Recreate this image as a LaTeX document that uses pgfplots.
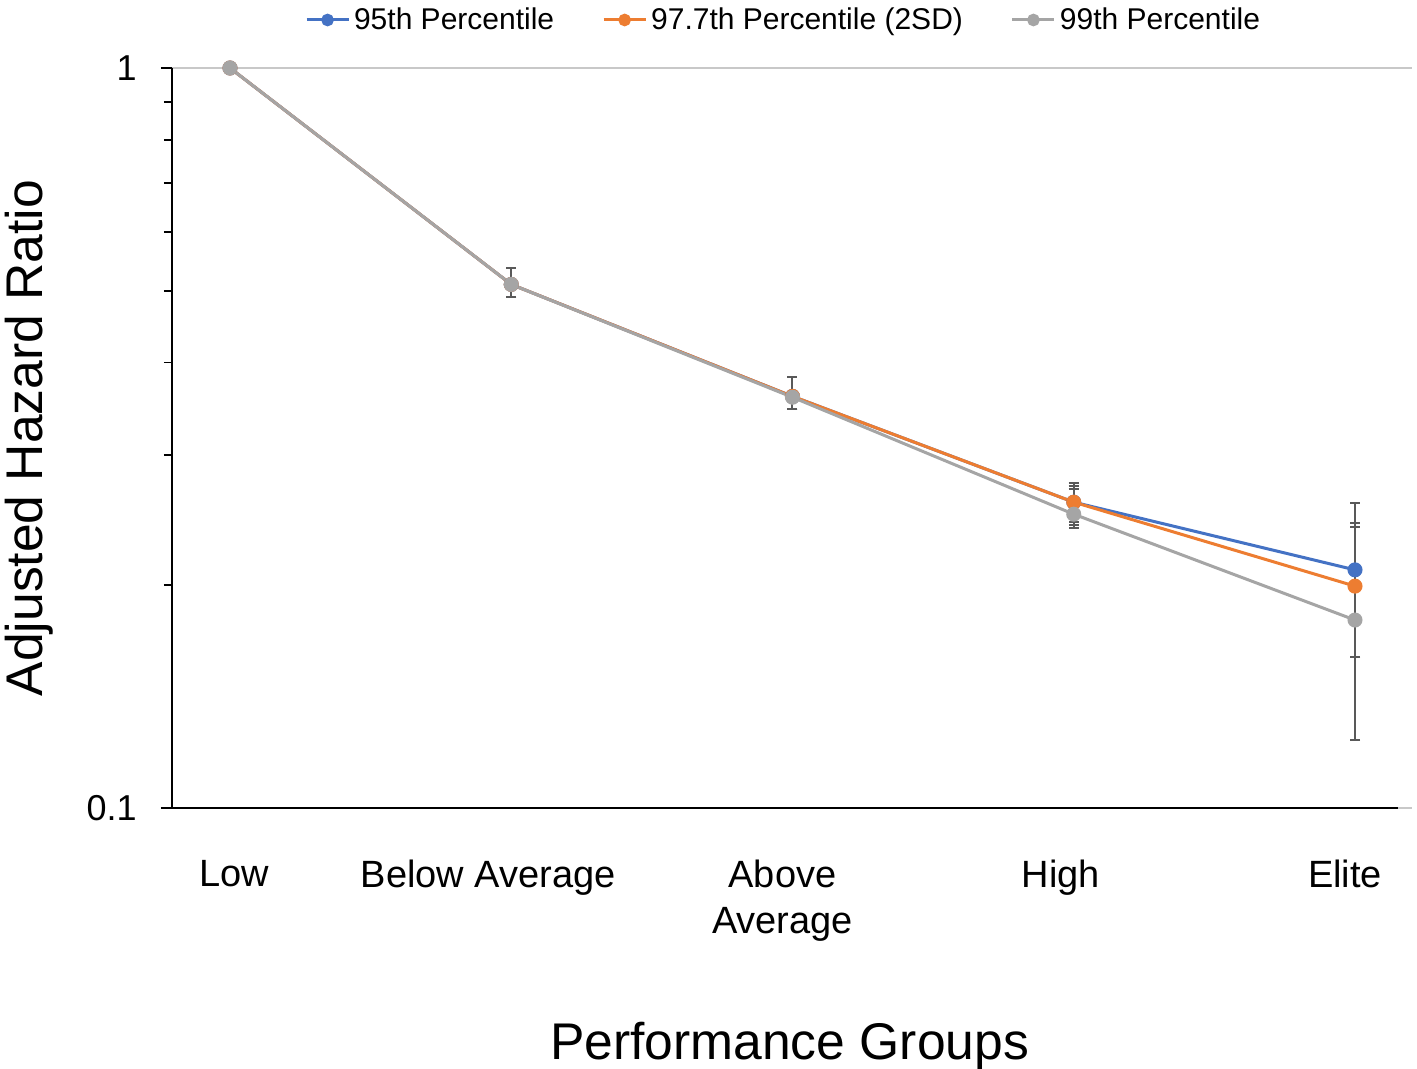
\documentclass[border=0pt]{standalone}
\usepackage{pgfplots}
\pgfplotsset{compat=1.18}
\usepackage{fontspec}
\setmainfont{Liberation Sans}
\definecolor{cblue}{HTML}{4472C4}
\definecolor{corange}{HTML}{ED7D31}
\definecolor{cgray}{HTML}{A5A5A5}
\definecolor{cerr}{HTML}{595959}
\definecolor{cgrid}{HTML}{C8C8C8}

\pgfplotstableread{
x y ep em
0 1.0 0 0
1 0.51 0.027 0.020
2 0.360 0.022 0.014
3 0.259 0.0108 0.0156
4 0.2098 0.0329 0.0498
}\blue

\pgfplotstableread{
x y ep em
0 1.0 0 0
1 0.51 0.027 0.020
2 0.360 0.022 0.014
3 0.259 0.0133 0.0179
4 0.1995 0.0403 0.0395
}\orange

\pgfplotstableread{
x y ep em
0 1.0 0 0
1 0.51 0.027 0.020
2 0.359 0.023 0.013
3 0.2495 0.0254 0.0105
4 0.1795 0.0789 0.0559
}\gray

\begin{document}
\begin{tikzpicture}
\path[use as bounding box] (0,0) rectangle (708.5bp,534.5bp);
\begin{axis}[
  at={(86bp,130.5bp)}, anchor=south west,
  width=620bp, height=370bp, scale only axis,
  ymode=log, ymin=0.1, ymax=1,
  xmin=-0.2062, xmax=4.2027,
  axis lines*=left,
  x axis line style={-, line width=1bp, shorten >=7bp},
  y axis line style={-, line width=1bp},
  xtick={0,1,2,3,4},
  xticklabels={
    {\makebox[0pt]{\hspace*{4bp}Low}},
    {\makebox[0pt]{\hspace*{-23bp}Below Average}},
    {\makebox[0pt]{\hspace*{-10bp}\raisebox{0pt}[13.8bp]{\begin{tabular}[t]{@{}c@{}}Above\\Average\end{tabular}}}},
    {\makebox[0pt]{\hspace*{-13bp}High}},
    {\makebox[0pt]{\hspace*{-10bp}Elite}}},
  xtick style={draw=none},
  xticklabel style={font=\fontsize{19bp}{23bp}\selectfont, anchor=north, inner sep=0pt, yshift=-20.5bp},
  ytick={0.1,1}, yticklabels={{0.1},{1}},
  minor ytick={0.2,0.3,0.4,0.5,0.6,0.7,0.8,0.9},
  tick align=outside,
  major tick length=5.5bp, minor tick length=4bp,
  ytick style={black, line width=0.9bp},
  minor tick style={black, line width=0.9bp},
  yticklabel style={anchor=east, inner sep=0pt, xshift=-12bp, font=\fontsize{18bp}{20bp}\selectfont},
  ymajorgrids, major grid style={cgrid, line width=1bp},
  xlabel={Performance Groups},
  xlabel style={at={(axis description cs:0.498,-0.3405)}, anchor=base, font=\fontsize{25.8bp}{30bp}\selectfont},
  ylabel={Adjusted Hazard Ratio},
  ylabel style={at={(axis description cs:-0.1153,0.5)}, anchor=center, font=\fontsize{25.8bp}{30bp}\selectfont},
  legend columns=3,
  legend style={at={(axis description cs:0.494,1)}, anchor=center, yshift=24bp, draw=none, fill=none,
    font=\fontsize{15bp}{18bp}\selectfont, inner sep=0pt,
    /tikz/every even column/.append style={column sep=22bp}},
  legend image code/.code={\draw[mark repeat=2,mark phase=2,#1, mark size=2.4bp] plot coordinates {(0bp,0bp) (10.5bp,0bp) (21bp,0bp)};},
  error bars/y dir=both, error bars/y explicit,
  error bars/error bar style={cerr, line width=1bp},
  error bars/error mark options={cerr, line width=1bp, mark size=2.5bp, rotate=90},
]
\addplot[cblue, line width=1.5bp, mark=*, mark size=3bp, mark options={solid, fill=cblue, draw=cblue}]
  table[x=x, y=y, y error plus=ep, y error minus=em] {\blue};
\addlegendentry{95th Percentile}
\addplot[corange, line width=1.5bp, mark=*, mark size=3bp, mark options={solid, fill=corange, draw=corange}]
  table[x=x, y=y, y error plus=ep, y error minus=em] {\orange};
\addlegendentry{97.7th Percentile (2SD)}
\addplot[cgray, line width=1.5bp, mark=*, mark size=3bp, mark options={solid, fill=cgray, draw=cgray}]
  table[x=x, y=y, y error plus=ep, y error minus=em] {\gray};
\addlegendentry{99th Percentile}
\end{axis}
\end{tikzpicture}
\end{document}
